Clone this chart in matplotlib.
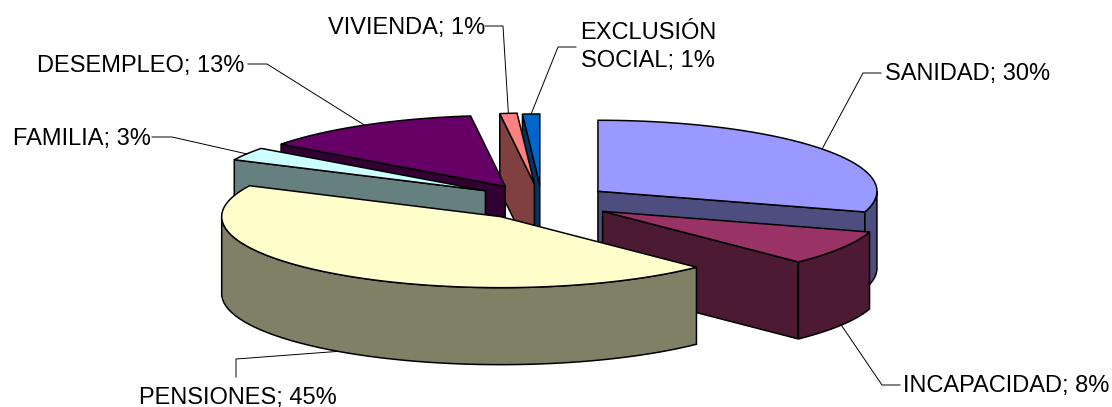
import numpy as np
import matplotlib
matplotlib.use('Agg')
from matplotlib import pyplot as plt
from matplotlib.colors import to_rgb
from matplotlib.patches import Polygon

plt.rcParams['font.family'] = ['Liberation Sans', 'DejaVu Sans']

# datos
labels = ['SANIDAD; 30%', 'INCAPACIDAD; 8%', 'PENSIONES; 45%', 'FAMILIA; 3%',
          'DESEMPLEO; 13%', 'VIVIENDA; 1%', 'EXCLUSIÓN\nSOCIAL; 1%']
values = [30, 8, 45, 3, 13, 1, 1]
colors = ['#9999FF', '#993366', '#FFFFCC', '#CCFFFF', '#660066', '#FF8080', '#0066CC']

# geometria de la tarta (pixeles)
cx, cy = 541, 202
rx, ry = 279, 71
depth = 77
explode = 0.254
nudge = [(0, 0), (1, 0), (1, 0), (5, -2), (0, 0), (0, 0), (1, 1)]

# etiquetas: x, y, ha, codo, fin de la linea
label_pos = [(885, 74, 'left', (863, 73), (881, 73)),
             (903, 386, 'left', (882, 385), (900, 385)),
             (139, 398, 'left', (236, 359), (236, 377)),
             (13, 139, 'left', (172, 137), (152, 137)),
             (37, 66, 'left', (267, 64), (248, 64)),
             (328, 28, 'left', (503, 26), (485, 26)),
             (648, 47, 'center', (558, 47), (576, 47))]
draw_order = [0, 1, 6, 5, 4, 3, 2]

fracs = np.array(values) / sum(values) * 360
ends = np.cumsum(fracs)
starts = ends - fracs


def pt(ap, th, dz=0):
    th = np.radians(th)
    return ap[0] + rx * np.sin(th), ap[1] - ry * np.cos(th) + dz


def apex(i):
    m = np.radians((starts[i] + ends[i]) / 2)
    return (cx + explode * rx * np.sin(m) + nudge[i][0],
            cy - explode * ry * np.cos(m) + nudge[i][1])


def arc(ap, t0, t1, dz=0):
    return [pt(ap, t, dz) for t in np.linspace(t0, t1, max(int(t1 - t0) * 2, 2))]


fig = plt.figure(figsize=(11.12, 4.07), dpi=100)
ax = fig.add_axes([0, 0, 1, 1])
ax.set_xlim(0, 1112)
ax.set_ylim(407, 0)
ax.axis('off')

lw = 1.1
for i in draw_order:
    a = apex(i)
    s, e = starts[i], ends[i]
    wall = tuple(0.5 * np.array(to_rgb(colors[i])))
    # paredes rectas
    if np.sin(np.radians(s)) < 0:
        p = pt(a, s)
        ax.add_patch(Polygon([p, a, (a[0], a[1] + depth), (p[0], p[1] + depth)],
                             fc=wall, ec='black', lw=lw))
    if np.sin(np.radians(e)) > 0:
        p = pt(a, e)
        ax.add_patch(Polygon([a, p, (p[0], p[1] + depth), (a[0], a[1] + depth)],
                             fc=wall, ec='black', lw=lw))
    # pared exterior
    t0, t1 = max(s, 90), min(e, 270)
    if t1 > t0:
        ax.add_patch(Polygon(arc(a, t0, t1) + arc(a, t0, t1, depth)[::-1],
                             fc=wall, ec='black', lw=lw))
    # cara superior
    ax.add_patch(Polygon([a] + arc(a, s, e), fc=colors[i], ec='black', lw=lw))

# etiquetas y lineas guia
for i, (x, y, ha, elbow, end) in enumerate(label_pos):
    m = (starts[i] + ends[i]) / 2
    p = pt(apex(i), m, depth if 90 < m < 270 else 0)
    ax.plot([p[0], elbow[0], end[0]], [p[1], elbow[1], end[1]], color='black', lw=0.7)
    ax.text(x, y, labels[i], ha=ha, va='center', multialignment='center',
            fontsize=17, color='black', linespacing=1.38)

fig.savefig('out.png', dpi=100)
